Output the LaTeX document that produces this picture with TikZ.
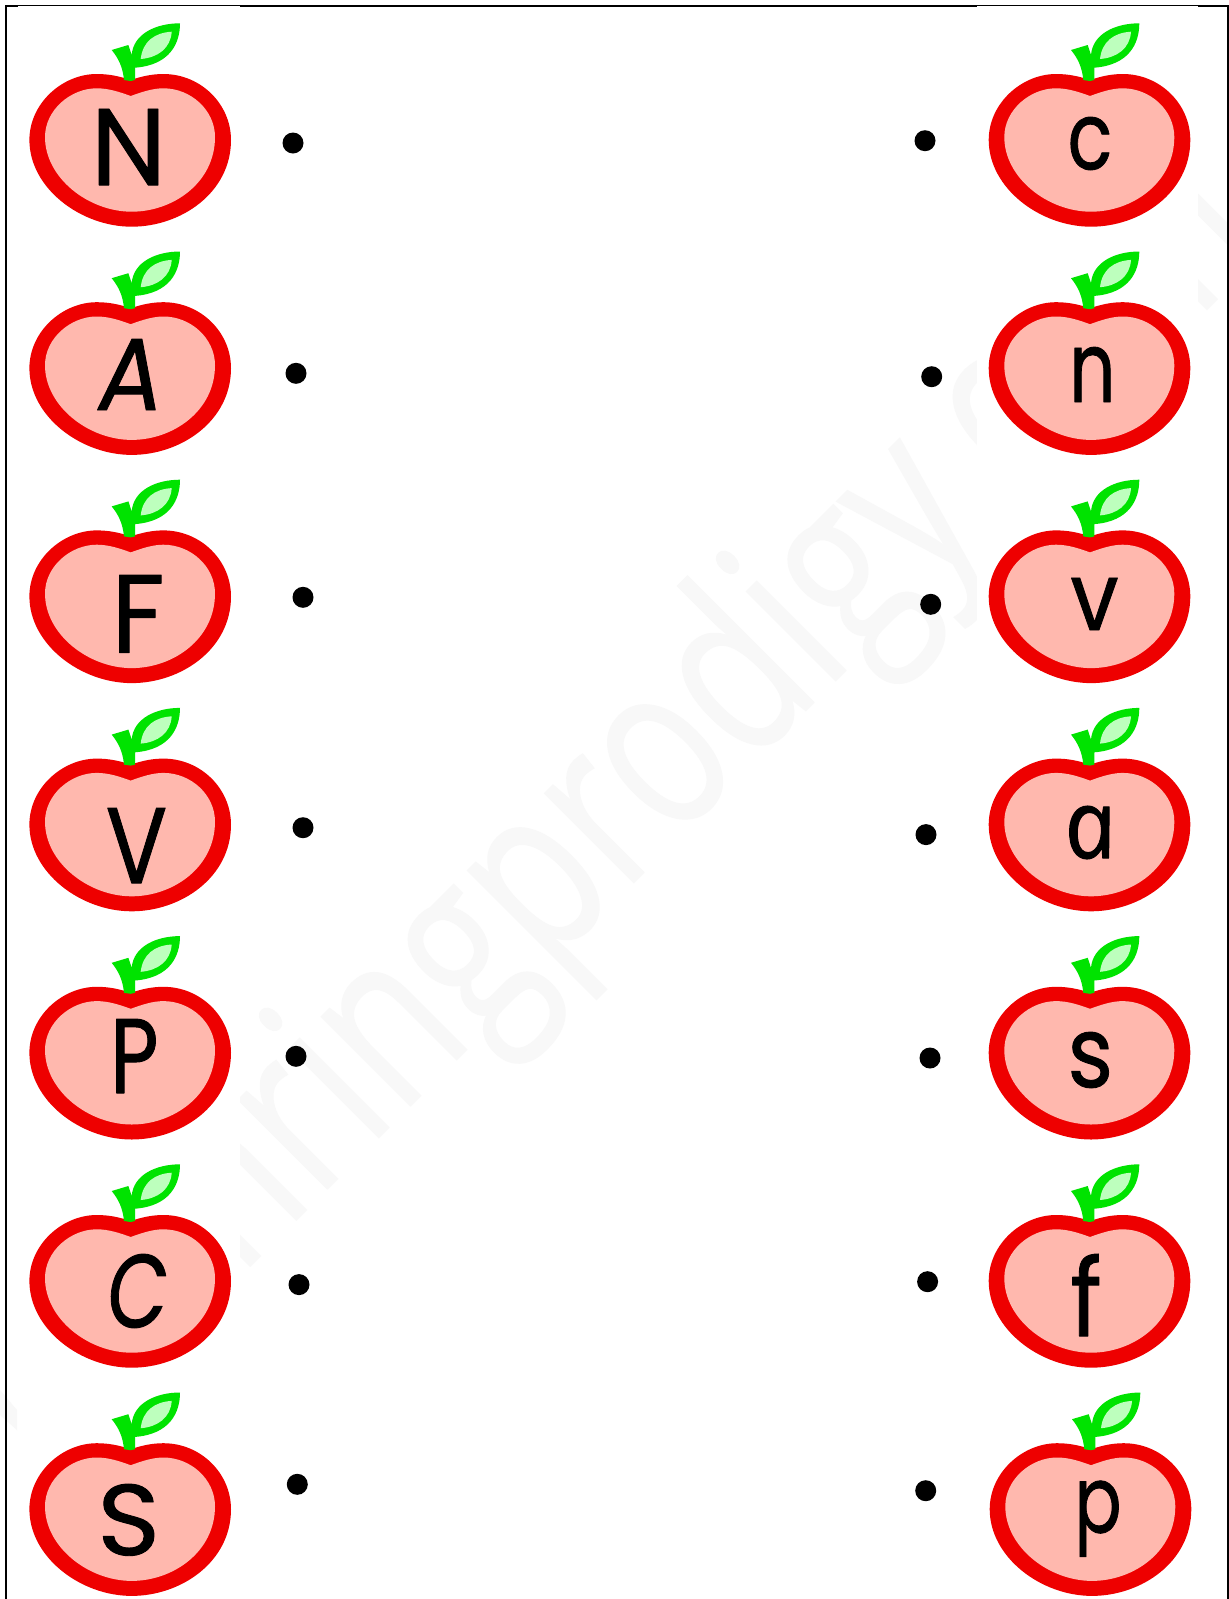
\documentclass[tikz,border=0pt]{standalone}
\usepackage{fontspec}
\setmainfont{Poppins}
\newfontfamily\wmfont[FakeBold=0.6]{Open Sans}
\newfontfamily\ltfont[FakeBold=0.9]{Poppins}
\newfontfamily\slfont[FakeBold=0.9,FakeSlant=0.16]{Poppins}
\newfontfamily\itfont[FakeBold=1.1,ItalicFeatures={FakeSlant=-0.2,FakeBold=1.1}]{Open Sans}
\definecolor{appred}{HTML}{EE0000}
\definecolor{apppink}{HTML}{FFB8AE}
\definecolor{appgreen}{HTML}{00E300}
\definecolor{appleaf}{HTML}{BDFFBD}
\definecolor{wm}{HTML}{F8F8F8}
\tikzset{
  appleskin/.style={fill=appred},
  appleflesh/.style={fill=apppink},
  applestem/.style={fill=appgreen},
  appleleaf/.style={fill=appleaf},
  matchdot/.style={circle,fill=black,inner sep=0pt,minimum size=21pt},
  letter/.style={inner sep=0pt,outer sep=0pt,text=black,anchor=center},
  watermark/.style={text=wm,inner sep=0pt,anchor=base west,rotate=45}
}
\newcommand{\appleat}[2]{%
  \begin{scope}[shift={(#1,#2)}]
    \path[appleskin] (0,-8) .. controls (12,-12) and (22,-14) .. (32.7,-14)
      .. controls (70,-14) and (100.3,16) .. (100.3,52)
      .. controls (100.3,105) and (50,138.7) .. (1,138.7)
      .. controls (-50,138.7) and (-101.3,100) .. (-101.3,52)
      .. controls (-101.3,15) and (-68,-14) .. (-34,-14)
      .. controls (-22,-14) and (-12,-12) .. (0,-8) -- cycle;
    \path[appleflesh] (0,8) .. controls (11,4) and (22,0.3) .. (32.7,0.3)
      .. controls (60,0.3) and (84.3,22) .. (84.3,49)
      .. controls (84.3,95) and (42,123.7) .. (1,123.7)
      .. controls (-42,123.7) and (-85.7,90) .. (-85.7,49)
      .. controls (-85.7,22) and (-60,0.3) .. (-34,0.3)
      .. controls (-22,0.3) and (-11,4) .. (0,8) -- cycle;
    \path[applestem] (-19,-38) -- (-2.3,-43) -- (1,-33)
      .. controls (2.7,-54.7) and (26,-64.7) .. (49.3,-64.7)
      .. controls (49.3,-44.7) and (39.3,-23) .. (4.3,-20.3)
      -- (4.3,-8) -- (0,-7) -- (-6.7,-8)
      .. controls (-8,-21.3) and (-12.3,-29.7) .. (-19,-38) -- cycle;
    \path[appleleaf] (41,-56.3) .. controls (24,-55.3) and (12,-46.7) .. (10,-29)
      .. controls (27,-30.3) and (40,-39.7) .. (41,-56.3) -- cycle;
  \end{scope}}
\newcommand{\ltr}[7]{% name, x0, x1, y0, y1, font, char
  \pgfmathsetmacro{\cxx}{(#2+#3)/2}\pgfmathsetmacro{\cyy}{(#4+#5)/2}%
  \pgfmathsetmacro{\ww}{(#3-#2)*1.12}\pgfmathsetmacro{\hh}{#5-#4}%
  \node[letter] (#1) at (\cxx,\cyy) {\special{pdf:code 1 j 1 J}\resizebox*{\ww pt}{\hh pt}{#6{}#7}};}
\begin{document}
\begin{tikzpicture}[x=1pt,y=-1pt]
\useasboundingbox (0,0) rectangle (1229,1599);
\fill[white] (0,0) rectangle (1229,1599);
% watermark
\begin{scope}
\clip (0,0) rectangle (1229,1599);
\node[watermark] (wmark) at (239,1277) {\scalebox{0.757}[1]{\fontsize{235}{235}\selectfont\wmfont nringprodigy.com}};
\fill[wm] (0,1390) -- (17,1410) -- (17,1430) -- (0,1415) -- cycle;
\end{scope}
% frame
\draw[black,line width=2pt] (5.5,1599) -- (5.5,6) -- (1229,6);
\draw[black,line width=1.5pt] (1228.2,5) -- (1228.2,1599);
% white panels behind the apples
\fill[white] (18,6) rectangle (240,1599);
\fill[white] (977,6) rectangle (1198,1599);
% apples
\foreach \r in {0,...,6} {
  \appleat{130.7}{88+228.2*\r}
}
\foreach \r in {0,...,5} {
  \appleat{1090}{88+228.2*\r}
}
\appleat{1091}{88+228.2*6}
% letters
\ltr{lN}{95}{162.3}{109}{185}{\ltfont}{N}
\ltr{lA}{97.7}{155}{339}{410}{\slfont}{A}
\ltr{lF}{114.3}{161.7}{575}{652.7}{\ltfont}{F}
\ltr{lV}{109}{164}{808}{883}{\ltfont}{V}
\ltr{lP}{112.7}{156}{1019}{1093}{\ltfont}{P}
\ltr{lC}{107}{161}{1254}{1328}{\slfont}{C}
\ltr{lS}{100.7}{156.7}{1484}{1555.7}{\ltfont}{S}
\ltr{sc}{1070}{1110}{117}{170}{\ltfont}{c}
\ltr{sn}{1071.7}{1113}{347}{402}{\ltfont}{n}
\ltr{sv}{1073}{1116}{578}{630}{\ltfont}{v}
\ltr{sa}{1072}{1118}{806}{859}{\itfont\itshape}{a}
\ltr{ss}{1070}{1110.7}{1032}{1088}{\ltfont}{s}
\ltr{sf}{1072}{1100}{1254}{1336}{\ltfont}{f}
\ltr{sp}{1077}{1119}{1480.7}{1556.7}{\ltfont}{p}
% dots
\node[matchdot] (dN) at (293,143) {};
\node[matchdot] (dA) at (296,373.3) {};
\node[matchdot] (dF) at (303,597.3) {};
\node[matchdot] (dV) at (303,827.7) {};
\node[matchdot] (dP) at (296,1056.3) {};
\node[matchdot] (dC) at (299,1284.6) {};
\node[matchdot] (dS) at (297.3,1484.3) {};
\node[matchdot] (dc) at (925,140.7) {};
\node[matchdot] (dn) at (931.7,376.7) {};
\node[matchdot] (dv) at (930.7,604.3) {};
\node[matchdot] (da) at (926,834.6) {};
\node[matchdot] (ds) at (930,1058) {};
\node[matchdot] (df) at (927.6,1281.7) {};
\node[matchdot] (dp) at (925.7,1490.7) {};
\end{tikzpicture}
\end{document}
